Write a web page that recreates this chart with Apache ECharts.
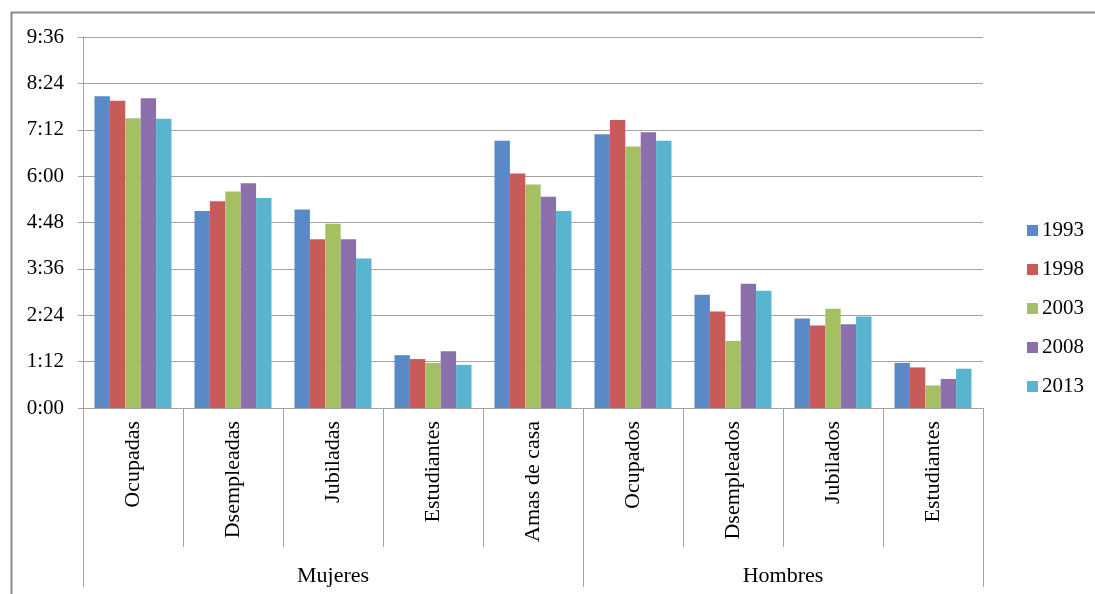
<!DOCTYPE html>
<html>
<head>
<meta charset="utf-8">
<script src="https://cdn.jsdelivr.net/npm/echarts@6/dist/echarts.min.js"></script>
<style>
  html, body { margin: 0; padding: 0; background: #ffffff; }
  #chart { width: 1095px; height: 594px; }
</style>
</head>
<body>
<div id="chart"></div>
<script>
// Daily time (minutes) by activity group and survey year
const categories = ['Ocupadas', 'Dsempleadas', 'Jubiladas', 'Estudiantes', 'Amas de casa',
                    'Ocupados', 'Dsempleados', 'Jubilados', 'Estudiantes'];
const groups = ['Mujeres', 'Hombres'];
const years = ['1993', '1998', '2003', '2008', '2013'];

const v1993 = [484, 306, 308, 82, 415, 425, 176, 139, 70];
const v1998 = [477, 321, 262, 76, 364, 447, 150, 128, 63];
const v2003 = [450, 336, 286, 70, 347, 406, 104, 154, 35];
const v2008 = [481, 349, 262, 88, 328, 428, 193, 130, 45];
const v2013 = [449, 326, 232, 67, 306, 415, 182, 142, 61];

const yearValues = [v1993, v1998, v2003, v2008, v2013];
const colors = ['#5a8ac6', '#c75b58', '#a5c063', '#8b70ab', '#59b4cf'];

// Group boundaries (in category units) and group label centres
const groupEdges = [0, 5, 9];
const groupCentres = [2.5, 7];

const FONT = '"Liberation Serif", "Times New Roman", serif';
const GRAY = '#a3a3a3';

function toClock(min) {
  const h = Math.floor(min / 60);
  const m = Math.round(min - h * 60);
  return h + ':' + (m < 10 ? '0' : '') + m;
}

const chart = echarts.init(document.getElementById('chart'));

chart.setOption({
  animation: false,
  backgroundColor: '#ffffff',
  color: colors,
  graphic: [{
    type: 'rect',
    left: 9, top: 10,
    shape: { width: 1100, height: 600 },
    style: { fill: 'none', stroke: '#8a8a8a', lineWidth: 2 },
    silent: true
  }],
  legend: {
    orient: 'vertical',
    left: 1022,
    top: 215,
    itemWidth: 11,
    itemHeight: 11,
    itemGap: 18,
    icon: 'rect',
    data: years,
    textStyle: { fontFamily: FONT, fontSize: 21, color: '#000', lineHeight: 21, padding: [0, 0, 0, -1] }
  },
  grid: { left: 83, right: 112, top: 37, bottom: 186, containLabel: false },
  xAxis: [{
    type: 'category',
    data: categories,
    position: 'bottom',
    axisLine: { show: true, lineStyle: { color: GRAY, width: 1 } },
    axisTick: { show: true, interval: 0, length: 139, lineStyle: { color: GRAY, width: 1 } },
    axisLabel: {
      interval: 0, rotate: 90, margin: 13,
      fontFamily: FONT, fontSize: 22, color: '#000'
    },
    splitLine: { show: false }
  }, {
    type: 'value',
    min: 0, max: 9,
    position: 'bottom',
    axisLine: { show: false },
    axisTick: { show: true, customValues: groupEdges, length: 179, lineStyle: { color: GRAY, width: 1 } },
    axisLabel: {
      customValues: groupCentres, margin: 157,
      fontFamily: FONT, fontSize: 22, color: '#000',
      formatter: function (v) { return v < groupEdges[1] ? groups[0] : groups[1]; }
    },
    splitLine: { show: false }
  }],
  yAxis: {
    type: 'value',
    min: 0, max: 576, interval: 72,
    axisLine: { show: true, lineStyle: { color: GRAY, width: 1 } },
    axisTick: { show: true, length: 5, lineStyle: { color: GRAY, width: 1 } },
    axisLabel: {
      margin: 19, fontFamily: FONT, fontSize: 21, color: '#000',
      formatter: toClock
    },
    splitLine: { show: true, lineStyle: { color: GRAY, width: 1 } }
  },
  series: years.map(function (y, i) {
    return {
      name: y,
      type: 'bar',
      xAxisIndex: 0,
      data: yearValues[i],
      barGap: '0%',
      barCategoryGap: '23%',
      itemStyle: { color: colors[i] }
    };
  })
});
</script>
</body>
</html>
